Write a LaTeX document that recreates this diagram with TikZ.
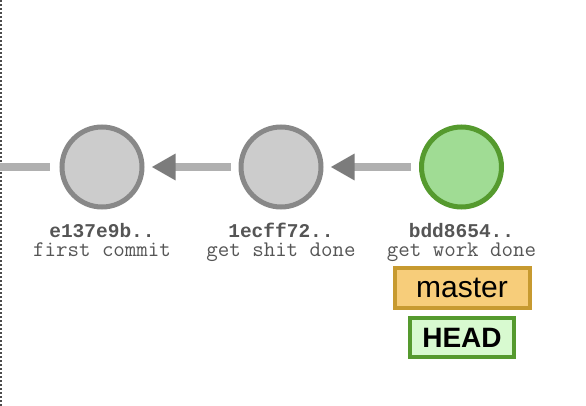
\documentclass[tikz,border=0pt]{standalone}
\usepackage{fontspec}
\setmainfont{Liberation Sans}
\newfontfamily\hashfont{Liberation Mono}
\usetikzlibrary{arrows.meta}
\definecolor{cgrayfill}{HTML}{CCCCCC}
\definecolor{cgraydraw}{HTML}{888888}
\definecolor{cgreenfill}{HTML}{A0DC94}
\definecolor{cgreendraw}{HTML}{559A2E}
\definecolor{cline}{HTML}{B0B0B0}
\definecolor{chead}{HTML}{7C7C7C}
\definecolor{ctext}{HTML}{555555}
\definecolor{cmasterfill}{HTML}{F7CD7A}
\definecolor{cmasterdraw}{HTML}{C79A30}
\definecolor{cheadfill}{HTML}{D8FAD0}
\tikzset{
  x=1pt,y=-1pt,
  commit/.style={circle,minimum size=80pt,inner sep=0pt,line width=5pt,draw=cgraydraw,fill=cgrayfill},
  cur/.style={commit,draw=cgreendraw,fill=cgreenfill},
  hashlbl/.style={anchor=base,font=\hashfont\bfseries\fontsize{19.5}{20}\selectfont,text=ctext,inner sep=0pt},
  msglbl/.style={anchor=base,font=\ttfamily\fontsize{22.3}{22}\selectfont,text=ctext,inner sep=0pt},
  parent/.style={line width=7.5pt,draw=cline,-{Triangle[length=24pt,width=25pt,color=chead]},shorten >=7pt},
  branchlbl/.style={draw=cmasterdraw,fill=cmasterfill,line width=4pt,minimum width=135pt,minimum height=40pt,inner sep=0pt,font=\fontsize{30}{30}\selectfont},
  headlbl/.style={draw=cgreendraw,fill=cheadfill,line width=4pt,minimum width=104pt,minimum height=39pt,inner sep=0pt,font=\bfseries\fontsize{28}{30}\selectfont}
}
\begin{document}
\begin{tikzpicture}
\useasboundingbox (0,0) rectangle (586,406);
\draw[black!70,line width=2pt,dash pattern=on 2pt off 2pt] (1,0) -- (1,406);
\node[commit] (c1) at (102,167) {};
\node[commit] (c2) at (281,167) {};
\node[cur] (c3) at (461.5,167) {};
\coordinate (left) at (0,167);
\draw[line width=7.5pt,draw=cline] (left) -- ([xshift=-10pt]c1.west);
\draw[parent] ([xshift=-8pt]c2.west) -- (c1.east);
\draw[parent] ([xshift=-8pt]c3.west) -- (c2.east);
\node[hashlbl] (h1) at (102,237) {e137e9b..};
\node[msglbl] (m1) at (102,256.5) {first commit};
\node[hashlbl] (h2) at (281,237) {1ecff72..};
\node[msglbl] (m2) at (281,256.5) {get shit done};
\node[hashlbl] (h3) at (461.5,237) {bdd8654..};
\node[msglbl] (m3) at (461.5,256.5) {get work done};
\node[branchlbl] (master) at (462,288) {master};
\node[headlbl] (head) at (462,337.5) {HEAD};
\end{tikzpicture}
\end{document}
